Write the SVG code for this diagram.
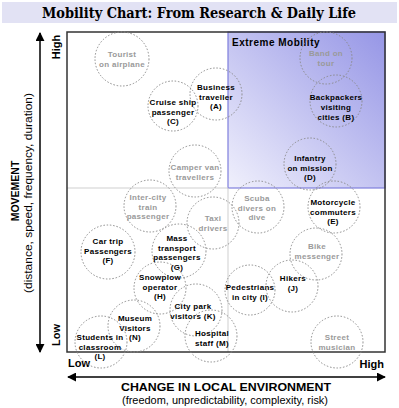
<svg xmlns="http://www.w3.org/2000/svg" width="399" height="408" viewBox="0 0 399 408">
<defs>
<linearGradient id="xg" x1="1" y1="0" x2="0" y2="1">
<stop offset="0" stop-color="#9696e6"/>
<stop offset="1" stop-color="#f0f0fc"/>
</linearGradient>
<marker id="ah" viewBox="0 0 10 10" refX="9" refY="5" markerWidth="9" markerHeight="9" orient="auto-start-reverse" markerUnits="userSpaceOnUse">
<path d="M0,0 L10,5 L0,10 z" fill="#000"/>
</marker>
<style>
.c{fill:none;stroke:#8a8a8a;stroke-width:1;stroke-dasharray:1.5 1.8}
.t{font-family:"Liberation Sans",Arial,sans-serif;font-size:8px;font-weight:bold;letter-spacing:0.3px;text-anchor:middle}
.k{fill:#000}
.g{fill:#9a9a9a}
.ax{font-family:"Liberation Sans",Arial,sans-serif;font-weight:bold;fill:#000}
.sub{font-family:"Liberation Sans",Arial,sans-serif;fill:#000}
</style>
</defs>
<rect width="399" height="408" fill="#fff"/>
<rect x="2" y="2" width="395" height="21" fill="#e2e2f4"/>
<text x="199" y="18" font-family="'DejaVu Serif','Liberation Serif',serif" font-weight="bold" font-size="14" text-anchor="middle" textLength="314" lengthAdjust="spacingAndGlyphs" fill="#000">Mobility Chart: From Research &amp; Daily Life</text>

<g id="chart">
<rect x="228" y="32" width="157" height="156" fill="url(#xg)" stroke="#7f7fdc" stroke-width="1.2"/>
<line x1="67" y1="188" x2="228" y2="188" stroke="#cfcfcf" stroke-width="1"/>
<line x1="228" y1="188" x2="228" y2="352" stroke="#cfcfcf" stroke-width="1"/>
<rect x="67" y="32" width="318" height="320" fill="none" stroke="#333" stroke-width="1.5"/>
<text x="232" y="46" class="ax" font-size="10" letter-spacing="0.5">Extreme Mobility</text>
</g>

<g id="connectors">
<line x1="40" y1="33" x2="40" y2="352" stroke="#000" stroke-width="1.5" marker-start="url(#ah)" marker-end="url(#ah)"/>
<line x1="68" y1="377" x2="385" y2="377" stroke="#000" stroke-width="1.5" marker-start="url(#ah)" marker-end="url(#ah)"/>
</g>

<g id="axis-labels">
<text transform="translate(60,47) rotate(-90)" class="ax" font-size="11" text-anchor="middle">High</text>
<text transform="translate(60,335) rotate(-90)" class="ax" font-size="11" text-anchor="middle">Low</text>
<text transform="translate(19,191) rotate(-90)" class="ax" font-size="10.5" text-anchor="middle">MOVEMENT</text>
<text transform="translate(32,193) rotate(-90)" class="sub" font-size="10" text-anchor="middle" textLength="200" lengthAdjust="spacingAndGlyphs">(distance, speed, frequency, duration)</text>
<text x="68" y="367" class="ax" font-size="11">Low</text>
<text x="384" y="368" class="ax" font-size="11" text-anchor="end">High</text>
<text x="226" y="391" class="ax" font-size="10.5" text-anchor="middle" textLength="210" lengthAdjust="spacingAndGlyphs">CHANGE IN LOCAL ENVIRONMENT</text>
<text x="225" y="404" class="sub" font-size="10" text-anchor="middle" textLength="206" lengthAdjust="spacingAndGlyphs">(freedom, unpredictability, complexity, risk)</text>
</g>

<g id="n-tourist"><circle class="c" cx="122" cy="59" r="27"/><text class="t g" x="122" y="57">Tourist<tspan x="122" dy="9.5">on airplane</tspan></text></g>
<g id="n-business"><circle class="c" cx="216" cy="94" r="26"/><text class="t k" x="216" y="90">Business<tspan x="216" dy="9.5">traveller</tspan><tspan x="216" dy="9.5">(A)</tspan></text></g>
<g id="n-cruise"><circle class="c" cx="173" cy="106" r="25"/><text class="t k" x="173" y="105">Cruise ship<tspan x="173" dy="9.5">passenger</tspan><tspan x="173" dy="9.5">(C)</tspan></text></g>
<g id="n-camper"><circle class="c" cx="195" cy="171" r="26"/><text class="t g" x="195" y="170">Camper van<tspan x="195" dy="9.5">travellers</tspan></text></g>
<g id="n-band"><circle class="c" cx="326" cy="58" r="26"/><text class="t g" x="326" y="56">Band on<tspan x="326" dy="9.5">tour</tspan></text></g>
<g id="n-backpackers"><circle class="c" cx="336" cy="101" r="26"/><text class="t k" x="336" y="100">Backpackers<tspan x="336" dy="10">visiting</tspan><tspan x="336" dy="10">cities (B)</tspan></text></g>
<g id="n-infantry"><circle class="c" cx="310" cy="164" r="26"/><text class="t k" x="310" y="161">Infantry<tspan x="310" dy="9.5">on mission</tspan><tspan x="310" dy="9.5">(D)</tspan></text></g>
<g id="n-intercity"><circle class="c" cx="150" cy="206" r="26"/><text class="t g" x="148" y="200">Inter-city<tspan x="148" dy="9.5">train</tspan><tspan x="148" dy="9.5">passenger</tspan></text></g>
<g id="n-taxi"><circle class="c" cx="213" cy="223" r="26"/><text class="t g" x="213" y="221">Taxi<tspan x="213" dy="9.5">drivers</tspan></text></g>
<g id="n-scuba"><circle class="c" cx="258" cy="207" r="26"/><text class="t g" x="257" y="201">Scuba<tspan x="257" dy="9.5">divers on</tspan><tspan x="257" dy="9.5">dive</tspan></text></g>
<g id="n-motorcycle"><circle class="c" cx="334" cy="207" r="26"/><text class="t k" x="333" y="205">Motorcycle<tspan x="333" dy="9.5">commuters</tspan><tspan x="333" dy="9.5">(E)</tspan></text></g>
<g id="n-car"><circle class="c" cx="108" cy="252" r="27"/><text class="t k" x="108" y="244">Car trip<tspan x="108" dy="9.5">Passengers</tspan><tspan x="108" dy="9.5">(F)</tspan></text></g>
<g id="n-mass"><circle class="c" cx="179" cy="251" r="27"/><text class="t k" x="177" y="241">Mass<tspan x="177" dy="9.5">transport</tspan><tspan x="177" dy="9.5">passengers</tspan><tspan x="177" dy="9.5">(G)</tspan></text></g>
<g id="n-bike"><circle class="c" cx="316" cy="254" r="26"/><text class="t g" x="317" y="249">Bike<tspan x="317" dy="9.5">messenger</tspan></text></g>
<g id="n-snowplow"><circle class="c" cx="160" cy="288" r="26"/><text class="t k" x="160" y="280">Snowplow<tspan x="160" dy="9.5">operator</tspan><tspan x="160" dy="9.5">(H)</tspan></text></g>
<g id="n-pedestrians"><circle class="c" cx="250" cy="290" r="25"/><text class="t k" x="250" y="290">Pedestrians<tspan x="250" dy="9.5">in city (I)</tspan></text></g>
<g id="n-hikers"><circle class="c" cx="292" cy="286" r="26"/><text class="t k" x="293" y="281">Hikers<tspan x="293" dy="9.5">(J)</tspan></text></g>
<g id="n-citypark"><circle class="c" cx="196" cy="310" r="26"/><text class="t k" x="193" y="309">City park<tspan x="193" dy="9.5">visitors (K)</tspan></text></g>
<g id="n-museum"><circle class="c" cx="134" cy="326" r="26"/><text class="t k" x="135" y="321">Museum<tspan x="135" dy="9.5">Visitors</tspan><tspan x="135" dy="9.5">(N)</tspan></text></g>
<g id="n-students"><circle class="c" cx="101" cy="342" r="26"/><text class="t k" x="100" y="340">Students in<tspan x="100" dy="9.5">classroom</tspan><tspan x="100" dy="9.5">(L)</tspan></text></g>
<g id="n-hospital"><circle class="c" cx="211" cy="336" r="26"/><text class="t k" x="212" y="336">Hospital<tspan x="212" dy="9.5">staff (M)</tspan></text></g>
<g id="n-street"><circle class="c" cx="337" cy="342" r="26"/><text class="t g" x="337" y="340">Street<tspan x="337" dy="9.5">musician</tspan></text></g>
</svg>
